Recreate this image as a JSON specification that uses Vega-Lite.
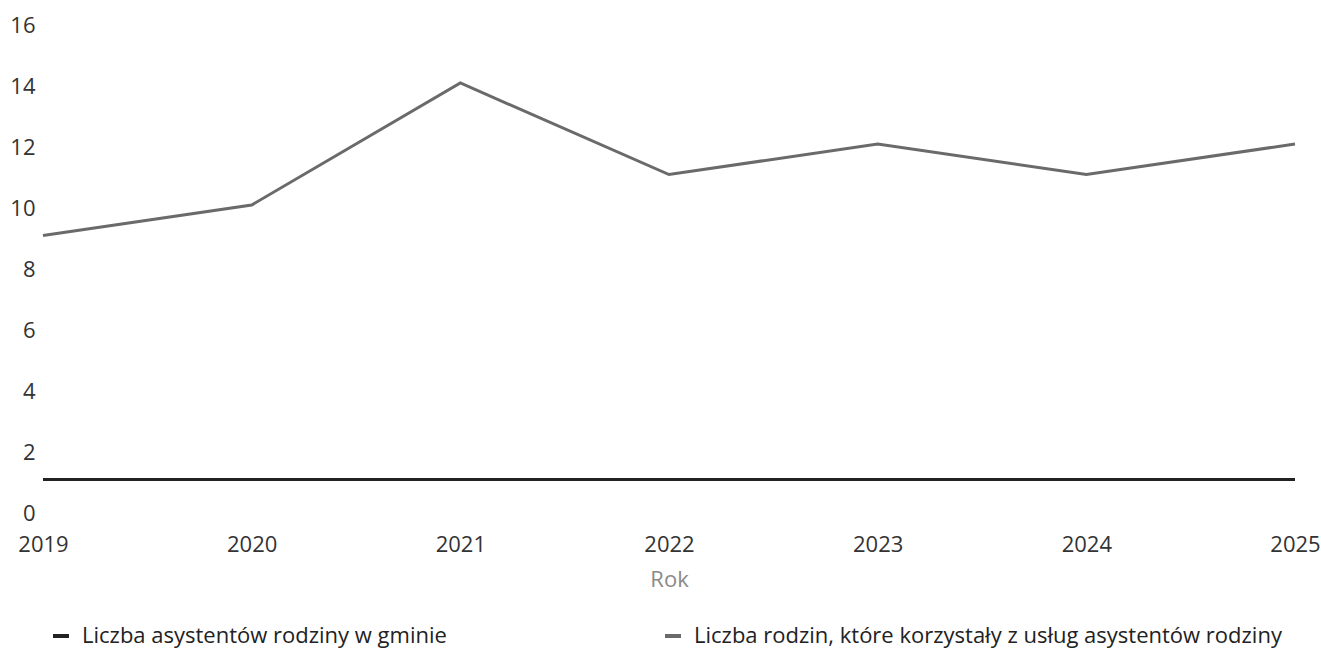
{
  "$schema": "https://vega.github.io/schema/vega-lite/v6.json",
  "autosize": {"type": "none"},
  "width": 1252,
  "height": 488,
  "padding": {"left": 43, "top": 22, "right": 26, "bottom": 139},
  "background": "white",
  "config": {
    "view": {"stroke": null},
    "font": "Open Sans"
  },
  "data": {
    "values": [
      {"Rok": "2019", "seria": "Liczba asystentów rodziny w gminie", "wartosc": 1},
      {"Rok": "2020", "seria": "Liczba asystentów rodziny w gminie", "wartosc": 1},
      {"Rok": "2021", "seria": "Liczba asystentów rodziny w gminie", "wartosc": 1},
      {"Rok": "2022", "seria": "Liczba asystentów rodziny w gminie", "wartosc": 1},
      {"Rok": "2023", "seria": "Liczba asystentów rodziny w gminie", "wartosc": 1},
      {"Rok": "2024", "seria": "Liczba asystentów rodziny w gminie", "wartosc": 1},
      {"Rok": "2025", "seria": "Liczba asystentów rodziny w gminie", "wartosc": 1},
      {"Rok": "2019", "seria": "Liczba rodzin, które korzystały z usług asystentów rodziny", "wartosc": 9},
      {"Rok": "2020", "seria": "Liczba rodzin, które korzystały z usług asystentów rodziny", "wartosc": 10},
      {"Rok": "2021", "seria": "Liczba rodzin, które korzystały z usług asystentów rodziny", "wartosc": 14},
      {"Rok": "2022", "seria": "Liczba rodzin, które korzystały z usług asystentów rodziny", "wartosc": 11},
      {"Rok": "2023", "seria": "Liczba rodzin, które korzystały z usług asystentów rodziny", "wartosc": 12},
      {"Rok": "2024", "seria": "Liczba rodzin, które korzystały z usług asystentów rodziny", "wartosc": 11},
      {"Rok": "2025", "seria": "Liczba rodzin, które korzystały z usług asystentów rodziny", "wartosc": 12}
    ]
  },
  "mark": {"type": "line", "strokeWidth": 3},
  "encoding": {
    "x": {
      "field": "Rok",
      "type": "ordinal",
      "scale": {"type": "point", "padding": 0},
      "axis": {
        "title": "Rok",
        "labelAngle": 0,
        "domain": false,
        "ticks": false,
        "grid": false,
        "labelPadding": 24,
        "labelFontSize": 22,
        "labelColor": "#333333",
        "labelFontWeight": "normal",
        "titleFontSize": 22,
        "titleFontWeight": "normal",
        "titleColor": "#8a8a8a",
        "titlePadding": 14
      }
    },
    "y": {
      "field": "wartosc",
      "type": "quantitative",
      "scale": {"domain": [0, 16], "nice": false},
      "axis": {
        "title": null,
        "values": [0, 2, 4, 6, 8, 10, 12, 14, 16],
        "domain": false,
        "ticks": false,
        "grid": false,
        "labelPadding": 8,
        "labelOffset": 3,
        "labelFontSize": 22,
        "labelColor": "#333333"
      }
    },
    "color": {
      "field": "seria",
      "type": "nominal",
      "scale": {
        "domain": ["Liczba asystentów rodziny w gminie", "Liczba rodzin, które korzystały z usług asystentów rodziny"],
        "range": ["#222222", "#6a6a6a"]
      },
      "legend": {
        "title": null,
        "orient": "none",
        "legendX": 7,
        "legendY": 603,
        "direction": "horizontal",
        "columns": 2,
        "columnPadding": 210,
        "symbolType": "stroke",
        "symbolStrokeWidth": 4,
        "symbolSize": 256,
        "labelFontSize": 22,
        "labelColor": "#222222",
        "labelLimit": 900,
        "labelOffset": 10,
        "encode": {
          "symbols": {"update": {"stroke": {"value": "#222222"}}}
        }
      }
    }
  }
}
